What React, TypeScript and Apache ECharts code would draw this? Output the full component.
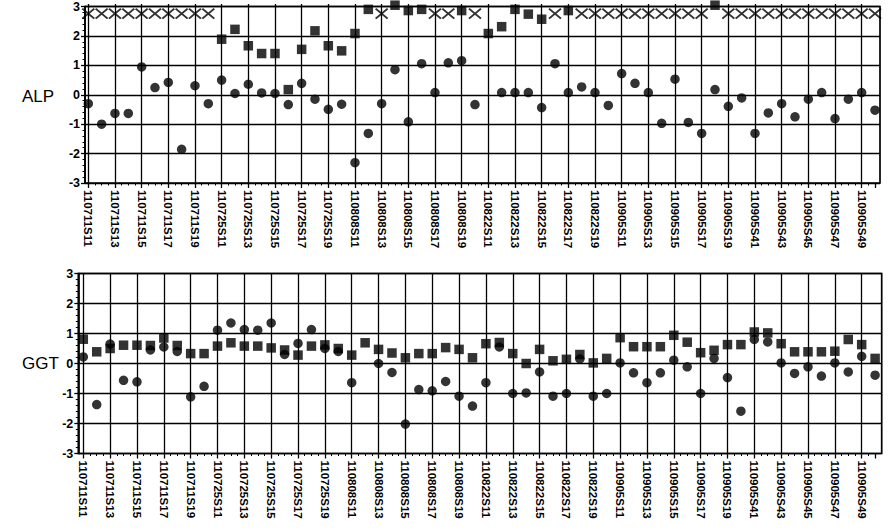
import React, { useEffect, useRef } from 'react';
import * as echarts from 'echarts';

// ---- categories (60 samples, labels shown on every other one) ----
const groupDates = ['110711', '110725', '110808', '110822', '110905', '110905'];
const groupFirstSubject = [11, 11, 11, 11, 11, 41];
const categories: string[] = [];
groupDates.forEach((d, g) => {
  for (let k = 0; k < 10; k++) categories.push(d + 'S' + (groupFirstSubject[g] + k));
});

// ---- ALP (top panel) ----
const alpCircles: (number | null)[] = [
  -0.34, -1.03, -0.67, -0.67, 0.89, 0.2, 0.37, -1.87, 0.26, -0.34,
  0.45, 0.0, 0.31, 0.02, 0.0, -0.37, 0.34, -0.19, -0.53, -0.36,
  -2.32, -1.34, -0.34, 0.8, -0.95, 1.0, 0.03, 1.03, 1.1, -0.37,
  null, 0.03, 0.03, 0.03, -0.47, 1.0, 0.03, 0.22, 0.03, -0.4,
  0.67, 0.34, 0.03, -1.0, 0.48, -0.97, -1.34, 0.13, -0.43, -0.15,
  -1.34, -0.65, -0.34, -0.78, -0.19, 0.03, -0.84, -0.19, 0.03, -0.56,
];
const alpSquares: (number | null)[] = [
  null, null, null, null, null, null, null, null, null, null,
  1.82, 2.15, 1.6, 1.34, 1.34, 0.13, 1.48, 2.1, 1.6, 1.43,
  2.01, 2.82, null, 2.96, 2.78, 2.82, null, null, 2.78, null,
  2.01, 2.24, 2.82, 2.66, 2.49, null, 2.78, null, null, null,
  null, null, null, null, null, null, null, 2.96, null, null,
  null, null, null, null, null, null, null, null, null, null,
];
// out-of-range marks (X) drawn just under the top edge
const alpOutOfRange: (number | null)[] = [
  2.68, 2.68, 2.68, 2.68, 2.68, 2.68, 2.68, 2.68, 2.68, 2.68,
  null, null, null, null, null, null, null, null, null, null,
  null, null, 2.68, null, null, null, 2.68, 2.68, null, 2.68,
  null, null, null, null, null, 2.68, null, 2.68, 2.68, 2.68,
  2.68, 2.68, 2.68, 2.68, 2.68, 2.68, 2.68, null, 2.68, 2.68,
  2.68, 2.68, 2.68, 2.68, 2.68, 2.68, 2.68, 2.68, 2.68, 2.68,
];

// ---- GGT (bottom panel) ----
const ggtCircles: (number | null)[] = [
  0.22, -1.37, 0.65, -0.56, -0.61, 0.45, 0.55, 0.4, -1.11, -0.76,
  1.11, 1.35, 1.13, 1.11, 1.35, 0.3, 0.67, 1.13, 0.5, 0.4,
  -0.64, null, 0.0, -0.3, -2.02, -0.87, -0.91, -0.6, -1.09, -1.42,
  -0.64, 0.55, -1.0, -0.98, -0.28, -1.09, -1.0, 0.15, -1.09, -1.0,
  0.02, -0.31, -0.64, -0.31, 0.11, -0.11, -1.0, 0.17, -0.47, -1.59,
  0.8, 0.72, 0.02, -0.33, -0.11, -0.42, 0.02, -0.28, 0.24, -0.39,
];
const ggtSquares: (number | null)[] = [
  0.81, 0.39, 0.5, 0.61, 0.61, 0.6, 0.85, 0.6, 0.33, 0.33,
  0.58, 0.69, 0.58, 0.58, 0.52, 0.45, 0.28, 0.58, 0.62, 0.5,
  0.28, 0.69, 0.47, 0.35, 0.19, 0.33, 0.33, 0.53, 0.47, 0.19,
  0.66, 0.7, 0.33, 0.0, 0.47, 0.09, 0.14, 0.3, 0.02, 0.17,
  0.86, 0.56, 0.56, 0.56, 0.94, 0.71, 0.36, 0.44, 0.63, 0.63,
  1.05, 1.02, 0.66, 0.39, 0.39, 0.39, 0.41, 0.8, 0.63, 0.17,
];

const yTicks = { min: -3, max: 3, interval: 1 };

const toPairs = (arr: (number | null)[]) =>
  arr.map((v, i) => (v === null ? null : [i, v])).filter((p) => p !== null) as number[][];

const INK = '#000';
const FONT = '"Liberation Sans", Arial, sans-serif';

function buildPanel(
  gi: number,
  frame: { left: number; top: number; width: number; height: number },
  dataLeft: number,
  dataWidth: number
) {
  const grids = [
    {
      left: frame.left, top: frame.top, width: frame.width, height: frame.height,
      show: true, borderColor: '#000', borderWidth: 1.7, backgroundColor: 'transparent',
    },
    { left: dataLeft, top: frame.top, width: dataWidth, height: frame.height },
  ];
  const xAxes = [
    { type: 'value', gridIndex: gi * 2, min: 0, max: 1, show: false },
    {
      type: 'category', gridIndex: gi * 2 + 1, data: categories, boundaryGap: false,
      position: 'bottom',
      axisLine: { show: false },
      axisTick: { show: false },
      splitLine: { show: true, interval: 1, lineStyle: { color: INK, width: 1.3 } },
      axisLabel: {
        interval: 1, rotate: -90, margin: 7, color: '#000', fontSize: 11.5,
        fontWeight: 'bold', fontFamily: FONT,
      },
    },
    {
      type: 'value', gridIndex: gi * 2 + 1, min: 0, max: 59, interval: 2, position: 'bottom',
      axisLine: { show: false },
      axisLabel: { show: false },
      splitLine: { show: false },
      axisTick: { show: true, length: 5, lineStyle: { color: INK, width: 1.3 } },
      minorTick: { show: true, splitNumber: 4, length: 2.5, lineStyle: { color: INK, width: 1 } },
    },
  ];
  const yAxes = [
    {
      type: 'value', gridIndex: gi * 2, ...yTicks,
      axisLine: { show: true, lineStyle: { color: '#000', width: 1.7 } },
      axisTick: { show: true, length: 4, lineStyle: { color: INK, width: 1.3 } },
      minorTick: { show: true, splitNumber: 5, length: 2.5, lineStyle: { color: INK, width: 1 } },
      splitLine: { show: true, lineStyle: { color: INK, width: 1.3 } },
      axisLabel: { color: '#000', fontSize: 12.5, fontWeight: 'bold', fontFamily: FONT, margin: 5 },
    },
    { type: 'value', gridIndex: gi * 2 + 1, ...yTicks, show: false },
  ];
  return { grids, xAxes, yAxes };
}

export default function App() {
  const ref = useRef<HTMLDivElement>(null);
  useEffect(() => {
    if (!ref.current) return;
    const chart = echarts.init(ref.current, undefined, { renderer: 'svg' });
    const top = buildPanel(0, { left: 85, top: 4, width: 795, height: 179 }, 88.3, 786.7);
    const bottom = buildPanel(1, { left: 78.3, top: 273.5, width: 803.4, height: 180 }, 83.3, 791.8);

    const dot = { color: '#000' };
    const xSymbol = 'path://M0,0L10,10M10,0L0,10';

    chart.setOption({
      animation: false,
      backgroundColor: '#fff',
      grid: [...top.grids, ...bottom.grids],
      xAxis: [...top.xAxes, ...bottom.xAxes],
      yAxis: [...top.yAxes, ...bottom.yAxes],
      graphic: [
        {
          type: 'text', left: 22, top: 88,
          style: { text: 'ALP', fontSize: 17, fontFamily: FONT, fill: '#000' },
        },
        {
          type: 'text', left: 22, top: 355,
          style: { text: 'GGT', fontSize: 17, fontFamily: FONT, fill: '#000' },
        },
      ],
      series: [
        {
          type: 'scatter', name: 'ALP circle', xAxisIndex: 1, yAxisIndex: 1,
          symbol: 'circle', symbolSize: 9.5, itemStyle: dot, data: toPairs(alpCircles),
        },
        {
          type: 'scatter', name: 'ALP square', xAxisIndex: 1, yAxisIndex: 1,
          symbol: 'rect', symbolSize: 9.5, itemStyle: dot, data: toPairs(alpSquares),
        },
        {
          type: 'scatter', name: 'ALP out of range', xAxisIndex: 1, yAxisIndex: 1,
          symbol: xSymbol, symbolSize: [12, 10],
          itemStyle: { color: 'transparent', borderColor: '#000', borderWidth: 1.8 },
          data: toPairs(alpOutOfRange),
        },
        {
          type: 'scatter', name: 'GGT circle', xAxisIndex: 4, yAxisIndex: 3,
          symbol: 'circle', symbolSize: 9.5, itemStyle: dot, data: toPairs(ggtCircles),
        },
        {
          type: 'scatter', name: 'GGT square', xAxisIndex: 4, yAxisIndex: 3,
          symbol: 'rect', symbolSize: 9.5, itemStyle: dot, data: toPairs(ggtSquares),
        },
      ],
    });
    return () => chart.dispose();
  }, []);
  return (
    <div
      ref={ref}
      style={{ position: 'fixed', left: 0, top: 0, width: 892, height: 531, background: '#fff' }}
    />
  );
}
